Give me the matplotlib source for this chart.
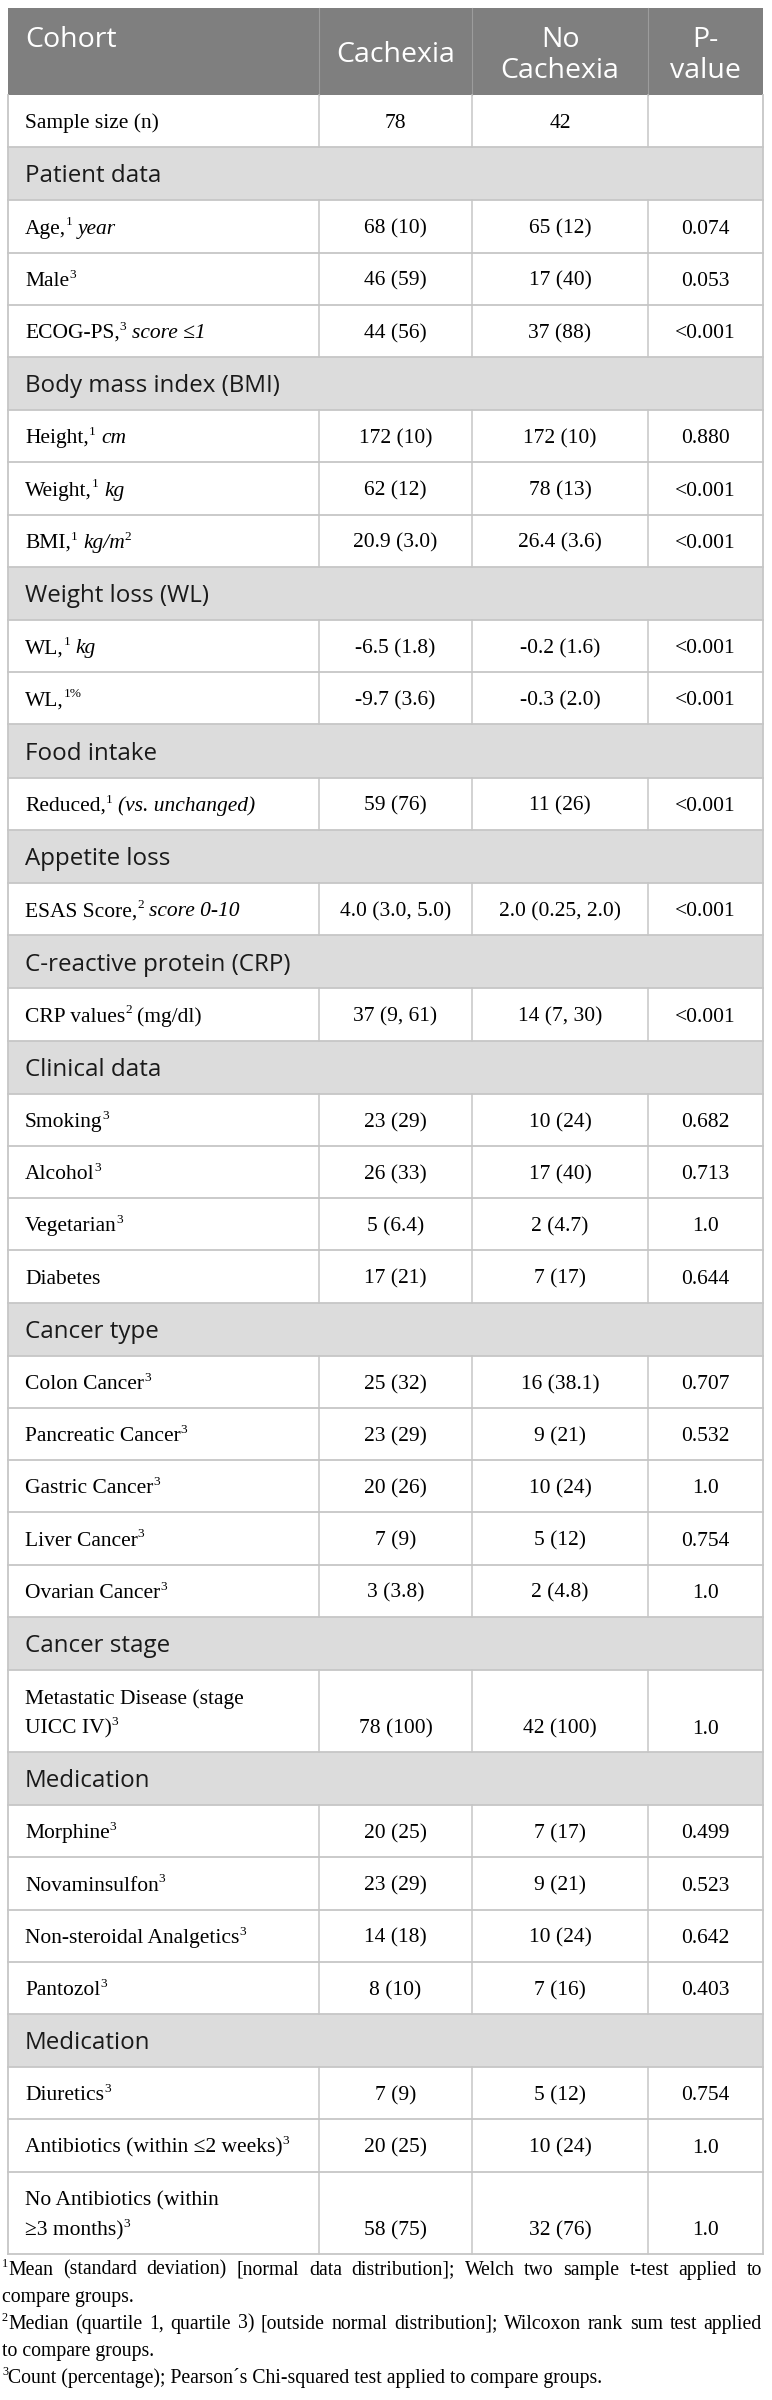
import matplotlib
matplotlib.use("Agg")
import matplotlib.pyplot as plt
from matplotlib.patches import Rectangle

# ---- table content ----
header_labels = ["Cohort", "Cachexia", "No\nCachexia", "P-\nvalue"]

section_titles = ["Patient data", "Body mass index (BMI)", "Weight loss (WL)",
                  "Food intake", "Appetite loss", "C-reactive protein (CRP)",
                  "Clinical data", "Cancer type", "Cancer stage",
                  "Medication", "Medication"]
section_counts = [3, 3, 2, 1, 1, 1, 4, 5, 1, 4, 3]

# label pieces: r = roman, i = italic, s = superscript, br = line break
row_labels = [
    [("Sample size (n)", "r")],
    [("Age,", "r"), ("1", "s"), (" year", "i")],
    [("Male", "r"), ("3", "s")],
    [("ECOG-PS,", "r"), ("3", "s"), (" score ≤1", "i")],
    [("Height,", "r"), ("1", "s"), (" cm", "i")],
    [("Weight,", "r"), ("1", "s"), (" kg", "i")],
    [("BMI,", "r"), ("1", "s"), (" kg/m", "i"), ("2", "s")],
    [("WL,", "r"), ("1", "s"), (" kg", "i")],
    [("WL,", "r"), ("1%", "s")],
    [("Reduced,", "r"), ("1", "s"), (" (vs. unchanged)", "i")],
    [("ESAS Score,", "r"), ("2", "s"), (" score 0-10", "i")],
    [("CRP values", "r"), ("2", "s"), (" (mg/dl)", "r")],
    [("Smoking", "r"), ("3", "s")],
    [("Alcohol", "r"), ("3", "s")],
    [("Vegetarian", "r"), ("3", "s")],
    [("Diabetes", "r")],
    [("Colon Cancer", "r"), ("3", "s")],
    [("Pancreatic Cancer", "r"), ("3", "s")],
    [("Gastric Cancer", "r"), ("3", "s")],
    [("Liver Cancer", "r"), ("3", "s")],
    [("Ovarian Cancer", "r"), ("3", "s")],
    [("Metastatic Disease (stage", "r"), ("", "br"), ("UICC IV)", "r"), ("3", "s")],
    [("Morphine", "r"), ("3", "s")],
    [("Novaminsulfon", "r"), ("3", "s")],
    [("Non-steroidal Analgetics", "r"), ("3", "s")],
    [("Pantozol", "r"), ("3", "s")],
    [("Diuretics", "r"), ("3", "s")],
    [("Antibiotics (within ≤2 weeks)", "r"), ("3", "s")],
    [("No Antibiotics (within", "r"), ("", "br"), ("≥3 months)", "r"), ("3", "s")],
]

cachexia = ["78", "68 (10)", "46 (59)", "44 (56)", "172 (10)", "62 (12)",
            "20.9 (3.0)", "-6.5 (1.8)", "-9.7 (3.6)", "59 (76)", "4.0 (3.0, 5.0)",
            "37 (9, 61)", "23 (29)", "26 (33)", "5 (6.4)", "17 (21)", "25 (32)",
            "23 (29)", "20 (26)", "7 (9)", "3 (3.8)", "78 (100)", "20 (25)",
            "23 (29)", "14 (18)", "8 (10)", "7 (9)", "20 (25)", "58 (75)"]
no_cachexia = ["42", "65 (12)", "17 (40)", "37 (88)", "172 (10)", "78 (13)",
               "26.4 (3.6)", "-0.2 (1.6)", "-0.3 (2.0)", "11 (26)", "2.0 (0.25, 2.0)",
               "14 (7, 30)", "10 (24)", "17 (40)", "2 (4.7)", "7 (17)", "16 (38.1)",
               "9 (21)", "10 (24)", "5 (12)", "2 (4.8)", "42 (100)", "7 (17)",
               "9 (21)", "10 (24)", "7 (16)", "5 (12)", "10 (24)", "32 (76)"]
p_values = ["", "0.074", "0.053", "<0.001", "0.880", "<0.001", "<0.001",
            "<0.001", "<0.001", "<0.001", "<0.001", "<0.001", "0.682", "0.713",
            "1.0", "0.644", "0.707", "0.532", "1.0", "0.754", "1.0", "1.0",
            "0.499", "0.523", "0.642", "0.403", "0.754", "1.0", "1.0"]

footnotes = [
    ("1", "Mean (standard deviation) [normal data distribution]; Welch two sample t-test applied to", True),
    ("", "compare groups.", False),
    ("2", "Median (quartile 1, quartile 3) [outside normal distribution]; Wilcoxon rank sum test applied", True),
    ("", "to compare groups.", False),
    ("3", "Count (percentage); Pearson´s Chi-squared test applied to compare groups.", False),
]

# ---- layout ----
W, H = 772, 2400
X0, X1 = 8, 763
col_edges = [X0, 319, 472, 648, X1]
TOP, HEAD_BOT = 8, 95
ROW_H, SEC_H, DBL_H = 52.2, 53.2, 82.0

SERIF = "Liberation Serif"
SANS = "Open Sans"
BODY_PT, SEC_PT, HEAD_PT, FOOT_PT = 15.5, 17.4, 20.5, 14.2
HEAD_BG, SEC_BG, GRID = "#7f7f7f", "#dcdcdc", "#c6c6c6"

fig = plt.figure(figsize=(W / 100, H / 100), dpi=100)
ax = fig.add_axes([0, 0, 1, 1])
ax.set_xlim(0, W)
ax.set_ylim(H, 0)
ax.axis("off")
renderer = fig.canvas.get_renderer()

def px(pt):
    return pt * 100 / 72

def text_w(s, size, style="normal", family=SERIF):
    t = ax.text(0, 0, s, fontsize=size, fontstyle=style, family=family)
    w = t.get_window_extent(renderer).width
    t.remove()
    return w

def draw_pieces(x, yb, pieces, size, family=SERIF, color="black"):
    space = text_w("x x", size) - text_w("xx", size)
    cx = x
    for s, kind in pieces:
        fs = size * 0.62 if kind == "s" else size
        y = yb - px(size) * 0.38 if kind == "s" else yb
        st = "italic" if kind == "i" else "normal"
        n = len(s) - len(s.lstrip(" "))
        cx += n * space
        s = s.strip(" ")
        if not s:
            continue
        t = ax.text(cx, y, s, fontsize=fs, fontstyle=st, family=family,
                    color=color, ha="left", va="baseline")
        cx += t.get_window_extent(renderer).width
    return cx

# header
ax.add_patch(Rectangle((X0, TOP), X1 - X0, HEAD_BOT - TOP, color=HEAD_BG, lw=0))
for xe in col_edges[1:-1]:
    ax.plot([xe, xe], [TOP, HEAD_BOT], color="#9c9c9c", lw=0.8)
hb = px(HEAD_PT) * 0.36
ax.text(25, 37 + hb, header_labels[0], fontsize=HEAD_PT, family=SANS,
        color="white", ha="left", va="baseline")
for j, lab in enumerate(header_labels[1:]):
    cx = (col_edges[j + 1] + col_edges[j + 2]) / 2
    lines = lab.split("\n")
    ys = [51.5] if len(lines) == 1 else [37, 68]
    for ln, yy in zip(lines, ys):
        ax.text(cx, yy + hb, ln, fontsize=HEAD_PT, family=SANS,
                color="white", ha="center", va="baseline")

# row sequence
rows = [("data", 0)]
k = 1
for i, n in enumerate(section_counts):
    rows.append(("sec", i))
    for _ in range(n):
        rows.append(("data", k))
        k += 1

body_base = px(BODY_PT) * 0.33
sec_base = px(SEC_PT) * 0.36
y = HEAD_BOT
for kind, idx in rows:
    if kind == "sec":
        h = SEC_H
        ax.add_patch(Rectangle((X0, y), X1 - X0, h, color=SEC_BG, lw=0))
        ax.text(25, y + h / 2 + sec_base, section_titles[idx], fontsize=SEC_PT,
                family=SANS, color="#1a1a1a", ha="left", va="baseline")
    else:
        pieces = row_labels[idx]
        double = any(p[1] == "br" for p in pieces)
        h = DBL_H if double else ROW_H
        yc = y + h / 2
        if double:
            br = [p[1] for p in pieces].index("br")
            draw_pieces(25, yc - 14.5 + body_base, pieces[:br], BODY_PT)
            draw_pieces(25, yc + 15.5 + body_base, pieces[br + 1:], BODY_PT)
            yv = yc + 15.5 + body_base
        else:
            draw_pieces(25, yc + body_base, pieces, BODY_PT)
            yv = yc + body_base
        for j, vals in enumerate([cachexia, no_cachexia, p_values]):
            cx = (col_edges[j + 1] + col_edges[j + 2]) / 2
            ax.text(cx, yv, vals[idx], fontsize=BODY_PT, family=SERIF,
                    ha="center", va="baseline", color="black")
        for xe in col_edges[1:-1]:
            ax.plot([xe, xe], [y, y + h], color=GRID, lw=1.1)
    ax.plot([X0, X1], [y + h, y + h], color=GRID, lw=1.3)
    y += h

table_bot = y
ax.plot([X0, X0], [HEAD_BOT, table_bot], color=GRID, lw=1.3)
ax.plot([X1, X1], [HEAD_BOT, table_bot], color=GRID, lw=1.3)

# footnotes
fy = table_bot + 21
for sup, line, justify in footnotes:
    x = 2
    if sup:
        t = ax.text(x, fy - px(FOOT_PT) * 0.38, sup, fontsize=FOOT_PT * 0.62,
                    family=SERIF, ha="left", va="baseline")
        x += t.get_window_extent(renderer).width
    if justify:
        words = line.split(" ")
        ws = [text_w(w_, FOOT_PT) for w_ in words]
        gap = (762 - x - sum(ws)) / (len(words) - 1)
        for w_, ww in zip(words, ws):
            ax.text(x, fy, w_, fontsize=FOOT_PT, family=SERIF,
                    ha="left", va="baseline")
            x += ww + gap
    else:
        ax.text(x, fy, line, fontsize=FOOT_PT, family=SERIF,
                ha="left", va="baseline")
    fy += 27

fig.savefig("out.png", dpi=100, facecolor="white")
